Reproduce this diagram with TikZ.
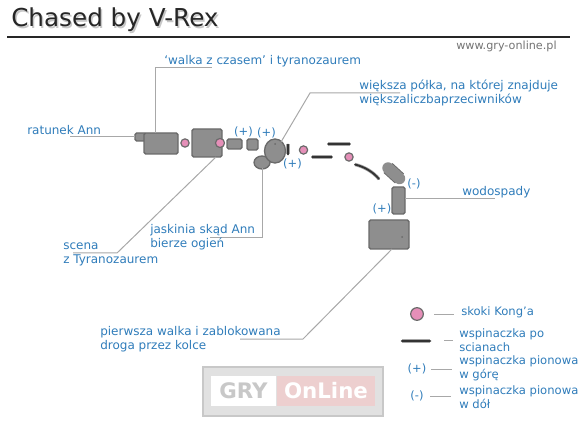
\documentclass[tikz,border=0pt]{standalone}
\usepackage{fontspec}
\setmainfont{DejaVu Sans}
\definecolor{labelblue}{HTML}{2F7CBA}
\definecolor{leadgrey}{HTML}{A8A8A8}
\definecolor{blockgrey}{HTML}{8E8E8E}
\definecolor{blockedge}{HTML}{6A6A6A}
\definecolor{kongpink}{HTML}{E58FB8}
\definecolor{logogrey}{HTML}{C8C8C8}
\definecolor{logopink}{HTML}{EDCFCF}
\tikzset{
    label/.style={text=labelblue,font=\fontsize{9pt}{10.5pt}\selectfont,align=left,anchor=west,inner sep=0pt},
    keylabel/.style={label,font=\fontsize{8.7pt}{10.5pt}\selectfont},
    sign/.style={text=labelblue,font=\fontsize{8.6pt}{10pt}\selectfont,inner sep=0pt},
    lead/.style={draw=leadgrey,line width=0.75pt},
    block/.style={fill=blockgrey,draw=blockedge,line width=1pt,rounded corners=1.2pt},
    jump/.style={circle,fill=kongpink,draw=blockedge,line width=0.9pt,inner sep=0pt,minimum size=6.2pt},
    wall/.style={line cap=round,preaction={draw=black!35,line width=2.5pt},draw=black!80,line width=1.4pt}
}
\begin{document}
\begin{tikzpicture}[x=0.75pt,y=-0.75pt]
    % Fix the size of the page
    \useasboundingbox (0,0) rectangle (580,423);

    % Title and rule
    \node[text=black!22,font=\fontsize{18.5pt}{22pt}\selectfont,inner sep=0pt,anchor=west] at (12.5,21.5) {Chased by V-Rex};
    \node (title) [text=black!85,font=\fontsize{18.5pt}{22pt}\selectfont,inner sep=0pt,anchor=west] at (11,20) {Chased by V-Rex};
    \coordinate (ruleA) at (7,37);
    \coordinate (ruleB) at (570,37);
    \draw[line width=1.6pt,black!85] (ruleA) -- (ruleB);
    \node (site) [text=black!55,font=\fontsize{8.4pt}{10pt}\selectfont,inner sep=0pt,anchor=west] at (456,46) {www.gry-online.pl};

    % Draw the blocks
    \draw[block] (135,133) rectangle (146,141);
    \draw[block] (144,133) rectangle (178,154);
    \node (jumpA) [jump] at (185,143) {};
    \draw[block] (192,129) rectangle (222,157);
    \node (jumpB) [jump,minimum size=6.8pt] at (220,143) {};
    \draw[block] (227,139) rectangle (242,149);
    \draw[block] (247,139) rectangle (258,150);
    \draw[block] (262,162.5) ellipse (8 and 6.5);
    \draw[block] (275,151) ellipse (10.5 and 12);
    \fill[blockedge] (275,144) circle (1);
    \draw[wall] (288,144.5) -- (288,154.5);
    \node (jumpC) [jump] at (303.5,150) {};
    \draw[wall] (328,144) -- (350,144);
    \draw[wall] (312,157) -- (332,157);
    \node (jumpD) [jump] at (349,157) {};
    \draw[wall] (355,164.5) .. controls (365,167) and (373,172) .. (379,179);
    \draw[blockgrey,line width=8.6pt,line cap=round,preaction={draw=blockedge,line width=10pt}] (388,168) -- (399.5,178.5);
    \draw[block] (392,187) rectangle (405,214);
    \draw[block] (369,220) rectangle (409,249);
    \fill[blockedge] (402,237) circle (1);

    % Place the signs
    \node (plusA) [sign] at (243.5,132) {(+)};
    \node (plusB) [sign] at (266.5,133) {(+)};
    \node (plusC) [sign] at (292.5,164) {(+)};
    \node (plusD) [sign] at (382,208.5) {(+)};
    \node (minusA) [sign] at (414,184) {(-)};

    % Draw the leaders
    \coordinate (czasA) at (212,68);
    \coordinate (czasB) at (155,68);
    \coordinate (czasC) at (155,133);
    \draw[lead] (czasA) -- (czasB) -- (czasC);
    \coordinate (annA) at (70,137);
    \coordinate (annB) at (135,137);
    \draw[lead] (annA) -- (annB);
    \coordinate (polkaA) at (400,93);
    \coordinate (polkaB) at (310,93);
    \coordinate (polkaC) at (281,142);
    \draw[lead] (polkaA) -- (polkaB) -- (polkaC);
    \coordinate (wodaA) at (405,199);
    \coordinate (wodaB) at (495,199);
    \draw[lead] (wodaA) -- (wodaB);
    \coordinate (jaskA) at (262,168);
    \coordinate (jaskB) at (262,238);
    \coordinate (jaskC) at (210,238);
    \draw[lead] (jaskA) -- (jaskB) -- (jaskC);
    \coordinate (scenaA) at (216,157);
    \coordinate (scenaB) at (117,253);
    \coordinate (scenaC) at (73,253);
    \draw[lead] (scenaA) -- (scenaB) -- (scenaC);
    \coordinate (walkaA) at (392,249);
    \coordinate (walkaB) at (303,339);
    \coordinate (walkaC) at (240,339);
    \draw[lead] (walkaA) -- (walkaB) -- (walkaC);

    % Place the labels
    \node (czas) [label] at (164,61) {‘walka z czasem’ i tyranozaurem};
    \node (ann) [label] at (27,130) {ratunek Ann};
    \node (polka) [label] at (359,93) {większa półka, na której znajduje\\większaliczbaprzeciwników};
    \node (woda) [label] at (462,192) {wodospady};
    \node (jaskinia) [label] at (150,237) {jaskinia skąd Ann\\bierze ogień};
    \node (scena) [label] at (63,254) {scena\\z Tyranozaurem};
    \node (walka) [label] at (100,339) {pierwsza walka i zablokowana\\droga przez kolce};

    % Draw the legend
    \node (keyJump) [jump,minimum size=9.5pt] at (417,314) {};
    \node (keyJumpText) [keylabel] at (461,312) {skoki Kong’a};
    \coordinate (keyJumpA) at (434,314);
    \coordinate (keyJumpB) at (454,314);
    \draw[lead] (keyJumpA) -- (keyJumpB);
    \coordinate (keyWallA) at (402,341);
    \coordinate (keyWallB) at (430,341);
    \draw[wall,line width=2pt] (keyWallA) -- (keyWallB);
    \node (keyWallText) [keylabel] at (459,340) {wspinaczka po\\scianach};
    \coordinate (keyWallC) at (444,340);
    \coordinate (keyWallD) at (453,340);
    \draw[lead] (keyWallC) -- (keyWallD);
    \node (keyUp) [sign] at (417,369) {(+)};
    \node (keyUpText) [keylabel] at (459,368.5) {wspinaczka pionowa\\w górę};
    \coordinate (keyUpA) at (431,369);
    \coordinate (keyUpB) at (452,369);
    \draw[lead] (keyUpA) -- (keyUpB);
    \node (keyDown) [sign] at (417,396) {(-)};
    \node (keyDownText) [keylabel] at (459,397) {wspinaczka pionowa\\w dół};
    \coordinate (keyDownA) at (430,396);
    \coordinate (keyDownB) at (451,396);
    \draw[lead] (keyDownA) -- (keyDownB);

    % Draw the logo
    \fill[logogrey!55] (203,367) rectangle (383,416);
    \draw[logogrey,line width=1.2pt] (203,367) rectangle (383,416);
    \fill[white] (211,376) rectangle (276,406);
    \fill[logopink] (277,376) rectangle (375,406);
    \node (gry) [text=logogrey,font=\bfseries\fontsize{16pt}{18pt}\selectfont,inner sep=0pt] at (243.5,391) {GRY};
    \node (online) [text=white,font=\bfseries\fontsize{16pt}{18pt}\selectfont,inner sep=0pt] at (326,391) {OnLine};
\end{tikzpicture}
\end{document}
